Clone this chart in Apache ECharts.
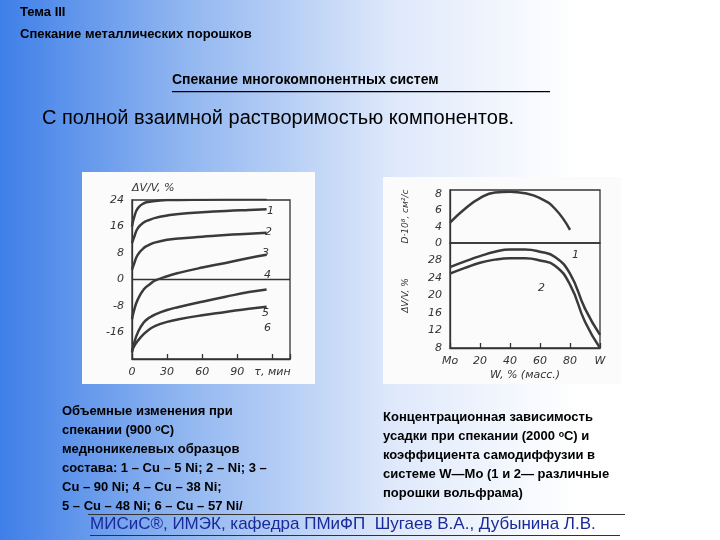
<!DOCTYPE html><html><head><meta charset="utf-8">
<script src="https://cdn.jsdelivr.net/npm/echarts@6/dist/echarts.min.js"></script>
<style>html,body{margin:0;padding:0;}#c{width:720px;height:540px;background:linear-gradient(90deg,#3f7fe8 0%,#8fb5f0 25%,#dfe9fb 55%,#ffffff 80%);}</style>
</head><body><div id="c"></div><script>
// Left chart: volume change vs time
const tValues=[0,2,5,10,15,20,30,40,60,80,100,115];
const curve1=[16,19,21.5,23,23.5,23.7,24,24,24.1,24.2,24.3,24.3];
const curve2=[11,13,15.5,17.2,18,18.6,19.3,19.8,20.3,20.7,21,21.2];
const curve3=[3,5,7.5,9.5,10.5,11.2,12,12.4,12.9,13.4,13.8,14.1];
const curve4=[-12,-9,-6,-3,-1.5,-0.3,1,2,3.6,5,6.5,7.5];
const curve5=[-22,-19,-16,-13,-11.5,-10.5,-9.2,-8.3,-6.7,-5.2,-3.8,-3];
const curve6=[-21.5,-20,-18.5,-16.5,-15,-14,-12.8,-12,-10.8,-9.8,-8.8,-8.2];
const leftYTicks=[-16,-8,0,8,16,24];
// Right chart: W content
const wValues=[0,10,20,30,40,50,60,70,80,90,100];
const diffusion=[4.5,6.2,7.5,8.2,8.3,8.1,7.5,6.2,3.6,null,null];
const shrink1=[26.5,27.8,29,30,30.5,30.5,30,28.8,25,17,11];
const shrink2=[25,26.3,27.5,28.2,28.5,28.5,28,26.8,22.5,14,8];
const xLabels={0:'Mo',20:'20',40:'40',60:'60',80:'80',100:'W'};
const ch=echarts.init(document.getElementById('c'));
const ax={onZero:false,lineStyle:{color:'#333',width:1.3}};
const lbl={color:'#333',fontSize:11,fontStyle:'italic',fontFamily:'DejaVu Sans'};
const gb={show:true,borderColor:'#333',borderWidth:1.3,backgroundColor:'transparent'};
const ln=(name,x,y,d,xi,yi)=>({type:'line',name,xAxisIndex:xi,yAxisIndex:yi,data:x.map((v,i)=>[v,d[i]]),smooth:true,showSymbol:false,lineStyle:{color:'#3a3a3a',width:2.5}});
ch.setOption({
 animation:false,
 grid:[{left:132,top:200,width:158,height:159,...gb},{left:450,top:190,width:150,height:53,...gb},{left:450,top:243,width:150,height:105,...gb}],
 xAxis:[
  {gridIndex:0,type:'value',min:0,max:135,interval:30,axisLine:ax,axisTick:{inside:true,lineStyle:ax.lineStyle},splitLine:{show:false},axisLabel:{...lbl,formatter:v=>v==120?'τ, мин':(v>120?'':v)}},
  {gridIndex:1,type:'value',min:0,max:100,show:false},
  {gridIndex:2,type:'value',min:0,max:100,interval:20,axisLine:ax,axisTick:{inside:true,lineStyle:ax.lineStyle},splitLine:{show:false},axisLabel:{...lbl,formatter:v=>xLabels[v]},name:'W, % (масс.)',nameLocation:'middle',nameGap:22,nameTextStyle:lbl}
 ],
 yAxis:[
  {gridIndex:0,type:'value',min:-24,max:24,interval:8,axisLine:ax,axisTick:{show:false},splitLine:{show:false},axisLabel:{...lbl,formatter:v=>leftYTicks.includes(v)?v:''},name:'ΔV/V, %',nameTextStyle:{...lbl,align:'left'},nameGap:6},
  {gridIndex:1,type:'value',min:2,max:8.5,interval:2,axisLine:ax,axisTick:{show:false},splitLine:{show:false},axisLabel:{...lbl,formatter:v=>v==2?'0':v},name:'D·10⁸, см²/с',nameLocation:'middle',nameGap:40,nameRotate:90,nameTextStyle:{...lbl,fontSize:9}},
  {gridIndex:2,type:'value',min:8,max:32,interval:4,axisLine:ax,axisTick:{show:false},splitLine:{show:false},axisLabel:{...lbl,formatter:v=>v==32?'':v},name:'ΔV/V, %',nameLocation:'middle',nameGap:40,nameRotate:90,nameTextStyle:{...lbl,fontSize:9}}
 ],
 series:[
  {type:'line',xAxisIndex:0,yAxisIndex:0,data:[[0,0],[135,0]],showSymbol:false,lineStyle:{color:'#333',width:1.3},silent:true},
  ln('1',tValues,0,curve1,0,0),ln('2',tValues,0,curve2,0,0),ln('3',tValues,0,curve3,0,0),
  ln('4',tValues,0,curve4,0,0),ln('5',tValues,0,curve5,0,0),ln('6',tValues,0,curve6,0,0),
  ln('D',wValues,0,diffusion,1,1),ln('r1',wValues,0,shrink1,2,2),ln('r2',wValues,0,shrink2,2,2)
 ],
 graphic:[
  {type:'rect',z:-10,shape:{x:82,y:172,width:233,height:212},style:{fill:'#fbfbfb'}},
  {type:'rect',z:-10,shape:{x:383,y:177,width:238,height:207},style:{fill:'#fbfbfb'}},
  {type:'text',left:20,top:6,style:{text:'Тема III',font:'bold 13px Arial',fill:'#000'}},
  {type:'text',left:20,top:28,style:{text:'Спекание металлических порошков',font:'bold 13px Arial',fill:'#000'}},
  {type:'text',left:172,top:73,style:{text:'Спекание многокомпонентных систем',font:'bold 14px Arial',fill:'#000'}},
  {type:'rect',shape:{x:172,y:91,width:378,height:1.3},style:{fill:'#000'}},
  {type:'text',left:42,top:108,style:{text:'С полной взаимной растворимостью компонентов.',font:'20px Arial',fill:'#000'}},
  {type:'text',left:62,top:402,style:{text:'Объемные изменения при\nспекании (900 \u1D52С)\nмедноникелевых образцов\nсостава: 1 – Cu – 5 Ni; 2 – Ni; 3 –\nCu – 90 Ni; 4 – Cu – 38 Ni;\n5 – Cu – 48 Ni; 6 – Cu – 57 Ni/',font:'bold 13px Arial',lineHeight:19,fill:'#000'}},
  {type:'text',left:383,top:408,style:{text:'Концентрационная зависимость\nусадки при спекании (2000 \u1D52С) и\nкоэффициента самодиффузии в\nсистеме W—Mo (1 и 2— различные\nпорошки вольфрама)',font:'bold 13px Arial',lineHeight:19,fill:'#000'}},
  {type:'rect',shape:{x:88,y:514,width:537,height:1},style:{fill:'#333'}},
  {type:'text',left:90,top:516,style:{text:'МИСиС®, ИМЭК, кафедра ПМиФП  Шугаев В.А., Дубынина Л.В.',font:'17px Arial',fill:'#1a2a9a'}},
  {type:'rect',shape:{x:90,y:535,width:530,height:1},style:{fill:'#1a2a9a'}},
  ...[['1',267,206],['2',265,227],['3',262,248],['4',264,270],['5',262,308],['6',264,323]].map(a=>({type:'text',left:a[1],top:a[2],style:{text:a[0],font:'italic 11px DejaVu Sans',fill:'#333'}})),
  {type:'text',left:572,top:250,style:{text:'1',font:'italic 11px DejaVu Sans',fill:'#333'}},
  {type:'text',left:538,top:283,style:{text:'2',font:'italic 11px DejaVu Sans',fill:'#333'}}
 ]
});
</script></body></html>
